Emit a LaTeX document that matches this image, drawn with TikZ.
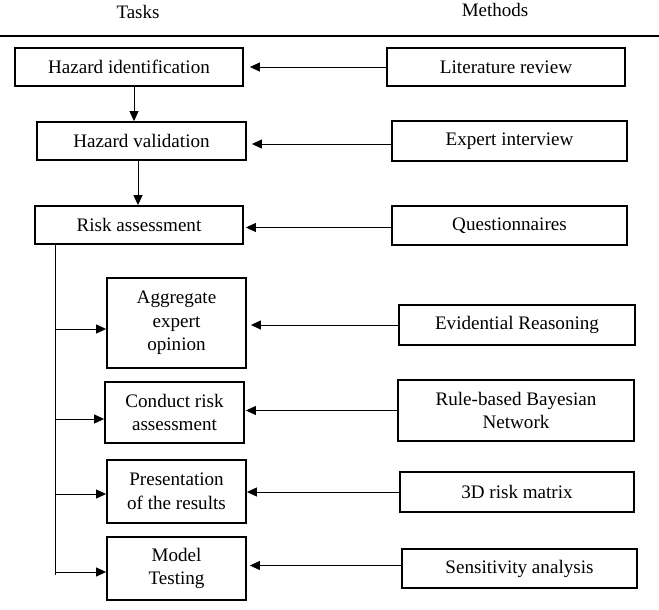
\documentclass[tikz,border=0pt]{standalone}
\usepackage{fontspec}
\setmainfont{Liberation Serif}
\usetikzlibrary{arrows.meta}
\begin{document}
\begin{tikzpicture}[x=1pt,y=-1pt,
  box/.style={draw,line width=1.8pt,inner sep=0pt,align=center,font=\fontsize{19.1}{23.5}\selectfont},
  arr/.style={line width=0.9pt,-{Triangle[length=10pt,width=9pt]}},
  hdr/.style={font=\fontsize{19}{22}\selectfont,inner sep=0pt}]
\useasboundingbox[fill=white] (0,0) rectangle (659,610);
% header
\node[hdr] (tasks) at (138,12) {Tasks};
\node[hdr] (methods) at (495,10) {Methods};
\coordinate (hl) at (0,36);
\coordinate (hr) at (659,36);
\draw[line width=1.2pt] (hl) -- (hr);
% task boxes
\node[box,minimum width=228pt,minimum height=38pt] (hi) at (129,67) {Hazard identification};
\node[box,minimum width=209pt,minimum height=38pt] (hv) at (141.5,141) {Hazard validation};
\node[box,minimum width=208pt,minimum height=38pt] (ra) at (139,225) {Risk assessment};
\node[box,minimum width=139pt,minimum height=90pt] (ag) at (176.5,323) {Aggregate\\expert\\opinion};
\node[box,minimum width=139pt,minimum height=61pt] (cr) at (174.5,412.5) {Conduct risk\\assessment};
\node[box,minimum width=139pt,minimum height=63pt] (pr) at (176.5,491.5) {Presentation\\of the results};
\node[box,minimum width=139pt,minimum height=63pt] (mt) at (176.5,568.5) {Model\\Testing};
% method boxes
\node[box,minimum width=238pt,minimum height=38pt] (lr) at (506,67) {Literature review};
\node[box,minimum width=235pt,minimum height=40pt] (ei) at (509.5,141) {Expert interview};
\node[box,minimum width=235pt,minimum height=39pt] (qu) at (509.5,225.5) {Questionnaires};
\node[box,minimum width=236pt,minimum height=40pt] (er) at (517,325) {Evidential Reasoning};
\node[box,minimum width=236pt,minimum height=61pt] (bn) at (516,410.5) {Rule-based Bayesian\\Network};
\node[box,minimum width=234pt,minimum height=40pt] (rm) at (517,492) {3D risk matrix};
\node[box,minimum width=235pt,minimum height=39pt] (sa) at (519.5,568.5) {Sensitivity analysis};
% vertical flow
\draw[arr] (hi.south -| 134,0) -- (hv.north -| 134,0);
\draw[arr] (hv.south -| 138,0) -- (ra.north -| 138,0);
% method arrows
\draw[arr,shorten >=6pt] (lr.west) -- (lr.west -| hi.east);
\draw[arr,shorten >=5pt] ([yshift=-3pt]ei.west) -- ([yshift=-3pt]ei.west -| hv.east);
\draw[arr,shorten >=2pt] ([yshift=-2pt]qu.west) -- ([yshift=-2pt]qu.west -| ra.east);
\draw[arr,shorten >=4pt] (er.west) -- (er.west -| ag.east);
\draw[arr,shorten >=1pt] (bn.west) -- (bn.west -| cr.east);
\draw[arr] (rm.west) -- (rm.west -| pr.east);
\draw[arr,shorten >=3pt] ([yshift=3pt]sa.west) -- ([yshift=3pt]sa.west -| mt.east);
% trunk and branches
\coordinate (tt) at (55,244);
\coordinate (tb) at (55,575);
\draw[line width=0.9pt] (tt) -- (tb);
\coordinate (b1) at (55,329);
\coordinate (b2) at (55,419);
\coordinate (b3) at (55,494);
\coordinate (b4) at (55,572);
\draw[arr] (b1) -- (b1 -| ag.west);
\draw[arr] (b2) -- (b2 -| cr.west);
\draw[arr] (b3) -- (b3 -| pr.west);
\draw[arr] (b4) -- (b4 -| mt.west);
\end{tikzpicture}
\end{document}
